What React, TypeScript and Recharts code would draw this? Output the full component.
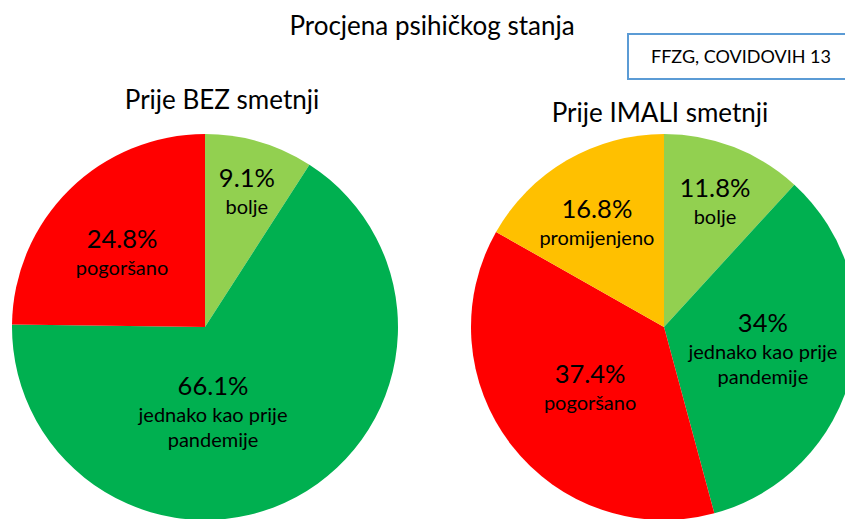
import { PieChart, Pie, Cell } from "recharts";

const leftCategories = ["bolje", "jednako kao prije\npandemije", "pogoršano"];
const leftValues = [9.1, 66.1, 24.8];
const rightCategories = ["bolje", "jednako kao prije\npandemije", "pogoršano", "promijenjeno"];
const rightValues = [11.8, 34, 37.4, 16.8];

const sliceColors: Record<string, string> = {
  bolje: "#92D050",
  "jednako kao prije\npandemije": "#00B050",
  pogoršano: "#FF0000",
  promijenjeno: "#FFC000",
};

// label anchors per slice: [angle in degrees, fraction of radius]
const leftLabelPos: [number, number][] = [
  [74.4, 0.807],
  [-82.1, 0.303],
  [133, 0.63],
];
const rightLabelPos: [number, number][] = [
  [70, 0.772],
  [2.9, 0.513],
  [211.9, 0.451],
  [119.4, 0.708],
];

const FONT = "Lato, 'Open Sans', sans-serif";
const RADIAN = Math.PI / 180;

const leftData = leftCategories.map((name, i) => ({ name, value: leftValues[i] }));
const rightData = rightCategories.map((name, i) => ({ name, value: rightValues[i] }));

function makeLabel(positions: [number, number][]) {
  return (props: any) => {
    const { cx, cy, outerRadius, index, name, value } = props;
    const [angle, frac] = positions[index];
    const x = cx + outerRadius * frac * Math.cos(angle * RADIAN);
    const y = cy - outerRadius * frac * Math.sin(angle * RADIAN);
    const lines = String(name).split("\n");
    return (
      <g>
        <text x={x} y={y} textAnchor="middle" dominantBaseline="central" fontSize={25.5} fill="#000" fontFamily={FONT}>
          {`${value}%`}
        </text>
        {lines.map((line, i) => (
          <text
            key={i}
            x={x}
            y={y + 29 + i * 25}
            textAnchor="middle"
            dominantBaseline="central"
            fontSize={20}
            fill="#000"
            fontFamily={FONT}
          >
            {line}
          </text>
        ))}
      </g>
    );
  };
}

export default function App() {
  return (
    <div
      style={{
        position: "absolute",
        left: 0,
        top: 0,
        width: 845,
        height: 519,
        overflow: "hidden",
        background: "#fff",
        fontFamily: FONT,
      }}
    >
      <PieChart width={845} height={519} margin={{ top: 0, right: 0, bottom: 0, left: 0 }}>
        <Pie
          data={leftData}
          dataKey="value"
          nameKey="name"
          cx={205}
          cy={327}
          outerRadius={193}
          startAngle={90}
          endAngle={-270}
          stroke="none"
          labelLine={false}
          label={makeLabel(leftLabelPos)}
          isAnimationActive={false}
        >
          {leftData.map((d) => (
            <Cell key={d.name} fill={sliceColors[d.name]} />
          ))}
        </Pie>
        <Pie
          data={rightData}
          dataKey="value"
          nameKey="name"
          cx={664}
          cy={327}
          outerRadius={193}
          startAngle={90}
          endAngle={-270}
          stroke="none"
          labelLine={false}
          label={makeLabel(rightLabelPos)}
          isAnimationActive={false}
        >
          {rightData.map((d) => (
            <Cell key={d.name} fill={sliceColors[d.name]} />
          ))}
        </Pie>
      </PieChart>

      <div style={{ position: "absolute", left: 0, width: 864, top: 9, textAlign: "center", fontSize: 26, color: "#000" }}>
        Procjena psihičkog stanja
      </div>
      <div
        style={{
          position: "absolute",
          left: 627,
          top: 33,
          width: 240,
          height: 47,
          boxSizing: "border-box",
          border: "2px solid #5B9BD5",
          background: "#fff",
        }}
      >
        <div style={{ position: "absolute", left: 0, width: 224, top: 10, textAlign: "center", fontSize: 18, color: "#000" }}>
          FFZG, COVIDOVIH 13
        </div>
      </div>
      <div style={{ position: "absolute", left: 22, width: 400, top: 83, textAlign: "center", fontSize: 26, color: "#000" }}>
        Prije BEZ smetnji
      </div>
      <div style={{ position: "absolute", left: 460, width: 400, top: 96, textAlign: "center", fontSize: 26, color: "#000" }}>
        Prije IMALI smetnji
      </div>
    </div>
  );
}
